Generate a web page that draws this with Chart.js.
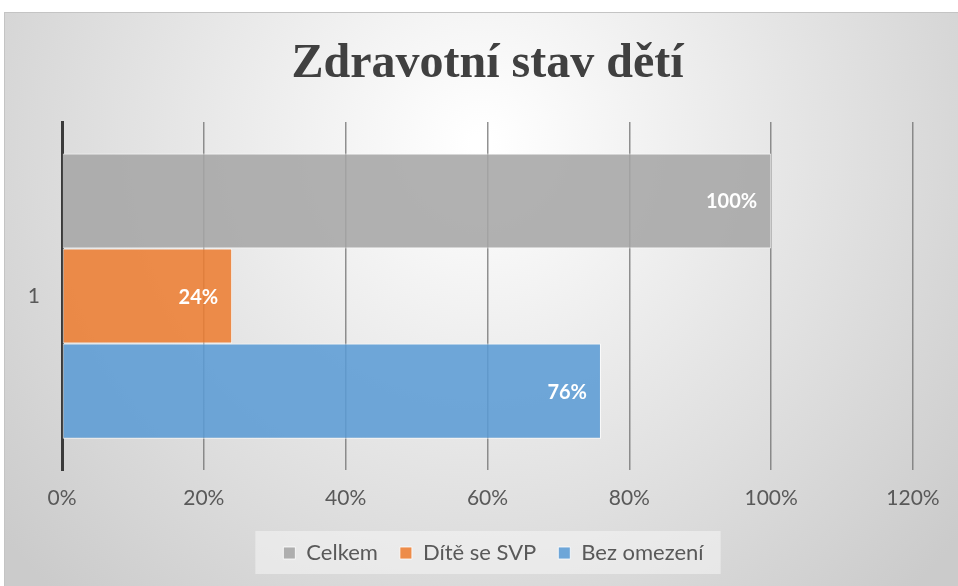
<!DOCTYPE html>
<html>
<head>
<meta charset="utf-8">
<script src="https://cdn.jsdelivr.net/npm/chart.js@4.4.0/dist/chart.umd.min.js"></script>
<style>
  html, body { margin: 0; padding: 0; background: #fff; overflow: hidden; }
  #wrap { position: absolute; left: 4px; top: 12px; width: 953px; height: 574px; border: 1px solid #c4c4c4; border-right: none; border-bottom: none; }
</style>
</head>
<body>
<div id="wrap"><canvas id="healthChart"></canvas></div>
<script>
const categories = ['1'];
const seriesNames = ['Celkem', 'Dítě se SVP', 'Bez omezení'];
const celkem = [1.00];
const diteSeSvp = [0.24];
const bezOmezeni = [0.76];
const xTicks = [0, 0.2, 0.4, 0.6, 0.8, 1.0, 1.2];

const pct = v => Math.round(v * 100) + '%';

// nudge legend a little to the right, like the original
const legendShift = {
    id: 'legendShift',
    afterLayout(chart) {
        const lg = chart.legend;
        lg.left += 6;
        lg.right += 6;
        (lg.legendHitBoxes || []).forEach(b => { b.left += 6; });
    }
};

// gradient background + legend panel
const backdrop = {
    id: 'backdrop',
    beforeDraw(chart) {
        const ctx = chart.ctx;
        const w = chart.width, h = chart.height;
        const g = ctx.createRadialGradient(w / 2, 130, 10, w / 2, 130, 620);
        g.addColorStop(0, '#ffffff');
        g.addColorStop(1, '#cbcbcb');
        ctx.save();
        ctx.fillStyle = g;
        ctx.fillRect(0, 0, w, h);
        const boxes = chart.legend.legendHitBoxes;
        if (boxes && boxes.length) {
            const first = boxes[0];
            const last = boxes[boxes.length - 1];
            const l = first.left - 28;
            const r = last.left + last.width + 17;
            const cy = first.top + first.height / 2;
            ctx.fillStyle = 'rgba(245,245,245,0.55)';
            ctx.fillRect(l, cy - 22, r - l, 43);
        }
        ctx.restore();
    }
};

// value labels inside bar ends
const barLabels = {
    id: 'barLabels',
    afterDatasetsDraw(chart) {
        const ctx = chart.ctx;
        ctx.save();
        ctx.font = 'bold 20px Lato';
        ctx.fillStyle = '#ffffff';
        ctx.textAlign = 'right';
        ctx.textBaseline = 'middle';
        chart.data.datasets.forEach((ds, i) => {
            chart.getDatasetMeta(i).data.forEach((bar, j) => {
                ctx.fillText(pct(ds.data[j]), bar.x - 14, bar.y + 1);
            });
        });
        ctx.restore();
    }
};

new Chart(document.getElementById('healthChart'), {
    type: 'bar',
    data: {
        labels: categories,
        datasets: [
            { label: seriesNames[0], data: celkem, backgroundColor: 'rgba(165,165,165,0.87)' },
            { label: seriesNames[1], data: diteSeSvp, backgroundColor: 'rgba(237,125,49,0.87)' },
            { label: seriesNames[2], data: bezOmezeni, backgroundColor: 'rgba(91,155,213,0.87)' }
        ].map(d => Object.assign(d, { borderColor: 'rgba(255,255,255,0.8)', borderWidth: 1, borderSkipped: false }))
    },
    options: {
        indexAxis: 'y',
        responsive: true,
        maintainAspectRatio: false,
        animation: false,
        datasets: { bar: { categoryPercentage: 0.82, barPercentage: 1 } },
        layout: { padding: { left: 4, right: 45, top: 0, bottom: 13 } },
        scales: {
            x: {
                min: 0,
                max: 1.2,
                afterBuildTicks: s => { s.ticks = xTicks.map(v => ({ value: v })); },
                afterFit: s => { s.height = 50; },
                ticks: { callback: v => pct(v), color: '#595959', font: { family: 'Lato', size: 21 }, padding: 16 },
                grid: { color: 'rgba(110,110,110,0.75)', lineWidth: 1.5, drawTicks: false },
                border: { display: false }
            },
            y: {
                afterFit: s => { s.width = 53; },
                ticks: { color: '#595959', font: { family: 'Lato', size: 21 }, padding: 22 },
                grid: { display: false, drawTicks: false },
                border: { display: true, color: '#3a3a3a', width: 3 }
            }
        },
        plugins: {
            title: {
                display: true,
                fullSize: false,
                text: 'Zdravotní stav dětí',
                color: '#404040',
                font: { family: 'Liberation Serif', size: 48, weight: 'bold' },
                padding: { top: 23, bottom: 28.5 }
            },
            legend: {
                position: 'bottom',
                fullSize: false,
                labels: { color: '#595959', font: { family: 'Lato', size: 22 }, boxWidth: 12, boxHeight: 12, padding: 22 }
            },
            tooltip: { enabled: false }
        }
    },
    plugins: [legendShift, backdrop, barLabels]
});
</script>
</body>
</html>
